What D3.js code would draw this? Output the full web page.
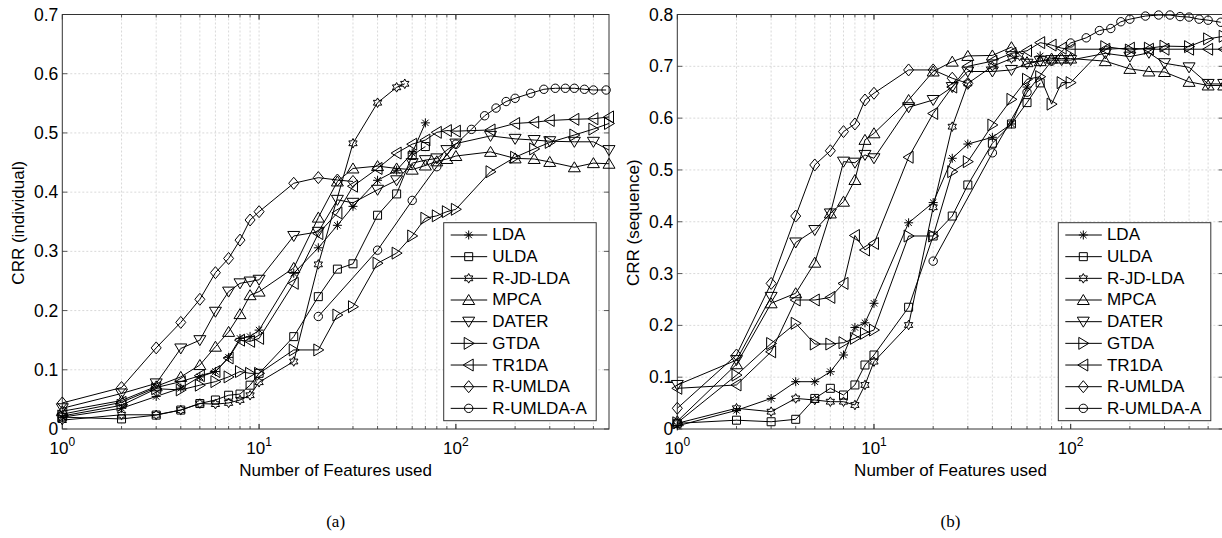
<!DOCTYPE html>
<html>
<head>
<meta charset="utf-8">
<script src="https://cdn.jsdelivr.net/npm/d3@7"></script>
<style>
body { margin: 0; background: #fff; }
text { font-family: "Liberation Sans", Arial, sans-serif; fill: #000; }
</style>
</head>
<body>
<svg id="chart" width="1222" height="538"></svg>
<script>
// feature counts
const xAll = [1,2,3,4,5,6,7,8,9,10,15,20,25,30,40,50,60,70,80,90,100,150,200,250,300,400,500,600];
const xTo70 = [1,2,3,4,5,6,7,8,9,10,15,20,25,30,40,50,60,70];
const xTo30 = [1,2,3,4,5,6,7,8,9,10,15,20,25,30];
const xRjdA = [1,2,3,4,5,6,7,8,9,10,15,20,30,40,50,55];
const xRjdB = [1,2,3,4,5,6,7,8,9,10,15,20,25,30,40,50,55];
const xAgg = [20,40,60,80,100,120,140,160,180,200,240,280,320,360,400,450,500,580];

const names = ['LDA','ULDA','R-JD-LDA','MPCA','DATER','GTDA','TR1DA','R-UMLDA','R-UMLDA-A'];
const markers = ['asterisk','square','hexagram','up','down','right','left','diamond','circle'];

// (a) CRR (individual)
const ldaA = [0.02,0.035,0.055,0.069,0.088,0.097,0.121,0.153,0.156,0.167,0.263,0.306,0.344,0.376,0.42,0.437,0.466,0.517];
const uldaA = [0.02,0.017,0.0235,0.032,0.043,0.049,0.057,0.059,0.074,0.094,0.156,0.2235,0.27,0.279,0.361,0.397,0.462,0.477];
const rjdA = [0.015,0.024,0.024,0.032,0.043,0.042,0.044,0.049,0.057,0.079,0.114,0.278,0.4825,0.551,0.577,0.583];
const mpcaA = [0.03,0.048,0.072,0.088,0.108,0.139,0.164,0.194,0.226,0.232,0.272,0.357,0.418,0.44,0.444,0.44,0.438,0.445,0.452,0.456,0.461,0.468,0.457,0.456,0.451,0.442,0.449,0.448];
const daterA = [0.035,0.06,0.077,0.136,0.15,0.198,0.232,0.246,0.249,0.252,0.326,0.333,0.387,0.382,0.404,0.42,0.449,0.454,0.457,0.471,0.482,0.495,0.49,0.488,0.486,0.485,0.485,0.471];
const gtdaA = [0.022,0.04,0.068,0.066,0.074,0.08,0.088,0.097,0.094,0.094,0.1335,0.1335,0.1925,0.2065,0.28,0.297,0.326,0.356,0.36,0.367,0.371,0.4345,0.459,0.473,0.484,0.4965,0.5065,0.516];
const tr1daA = [0.025,0.045,0.07,0.08,0.09,0.097,0.12,0.15,0.148,0.153,0.246,0.33,0.365,0.41,0.44,0.466,0.481,0.488,0.501,0.504,0.503,0.505,0.516,0.518,0.521,0.523,0.524,0.527];
const rumldaA = [0.044,0.07,0.137,0.18,0.219,0.264,0.288,0.319,0.353,0.367,0.415,0.4245,0.4205,0.418];
const rumldaAggA = [0.19,0.302,0.386,0.443,0.481,0.506,0.529,0.542,0.553,0.5585,0.567,0.5737,0.5754,0.5754,0.5754,0.5737,0.5725,0.5725];

// (b) CRR (sequence)
const ldaB = [0.006,0.036,0.059,0.0913,0.0913,0.1106,0.1428,0.196,0.205,0.2426,0.398,0.437,0.5225,0.55,0.563,0.5887,0.66,0.72];
const uldaB = [0.011,0.017,0.014,0.0187,0.059,0.0785,0.0656,0.085,0.1235,0.1428,0.235,0.3725,0.411,0.471,0.5515,0.5887,0.63,0.668];
const rjdB = [0.011,0.04,0.0334,0.059,0.056,0.0527,0.0527,0.0463,0.085,0.13,0.2007,0.428,0.5835,0.667,0.70,0.715,0.72];
const mpcaB = [0.015,0.125,0.2426,0.262,0.321,0.416,0.4387,0.4806,0.558,0.5707,0.635,0.69,0.709,0.72,0.721,0.737,0.708,0.71,0.715,0.715,0.715,0.71,0.695,0.69,0.689,0.67,0.663,0.663];
const daterB = [0.085,0.133,0.255,0.36,0.384,0.416,0.516,0.514,0.529,0.5225,0.621,0.635,0.66,0.69,0.69,0.693,0.705,0.71,0.712,0.712,0.712,0.725,0.7187,0.726,0.706,0.698,0.666,0.666];
const gtdaB = [0.012,0.104,0.165,0.204,0.164,0.164,0.1666,0.175,0.1847,0.191,0.3725,0.3725,0.4967,0.516,0.5868,0.6363,0.675,0.68,0.627,0.6685,0.6685,0.738,0.7315,0.735,0.739,0.738,0.753,0.758];
const tr1daB = [0.0785,0.085,0.149,0.249,0.249,0.254,0.281,0.3735,0.3455,0.358,0.5245,0.609,0.66,0.70,0.71,0.725,0.73,0.7457,0.741,0.735,0.733,0.733,0.735,0.733,0.733,0.733,0.733,0.733];
const rumldaB = [0.04,0.1428,0.281,0.411,0.5096,0.537,0.574,0.5887,0.635,0.648,0.693,0.693,0.677,0.667];
const rumldaAggB = [0.324,0.533,0.65,0.71,0.745,0.755,0.769,0.773,0.786,0.791,0.797,0.799,0.799,0.796,0.795,0.791,0.789,0.785];

const yTicksA = [0,0.1,0.2,0.3,0.4,0.5,0.6,0.7];
const yTicksB = [0,0.1,0.2,0.3,0.4,0.5,0.6,0.7,0.8];

const zip = (xs, ys) => ys.map((v, i) => [xs[i], v]);

const panels = [
    {
        left: 62.3, right: 609, top: 14.5, bottom: 429, ymax: 0.7, yTicks: yTicksA,
        ylabel: 'CRR (individual)', ylabelX: 18, tag: '(a)', legendX: 443.7,
        series: [zip(xTo70, ldaA), zip(xTo70, uldaA), zip(xRjdA, rjdA), zip(xAll, mpcaA), zip(xAll, daterA),
                 zip(xAll, gtdaA), zip(xAll, tr1daA), zip(xTo30, rumldaA), zip(xAgg, rumldaAggA)]
    },
    {
        left: 677.3, right: 1223.7, top: 14.5, bottom: 429, ymax: 0.8, yTicks: yTicksB,
        ylabel: 'CRR (sequence)', ylabelX: 633, tag: '(b)', legendX: 1058.3,
        series: [zip(xTo70, ldaB), zip(xTo70, uldaB), zip(xRjdB, rjdB), zip(xAll, mpcaB), zip(xAll, daterB),
                 zip(xAll, gtdaB), zip(xAll, tr1daB), zip(xTo30, rumldaB), zip(xAgg, rumldaAggB)]
    }
];

function markerPath (type) {
    if (type === 'asterisk') return 'M-4.5,0H4.5M0,-4.5V4.5M-3.2,-3.2L3.2,3.2M-3.2,3.2L3.2,-3.2';
    if (type === 'square') return 'M-4,-4H4V4H-4Z';
    if (type === 'up') return 'M0,-5.5L6,4.5H-6Z';
    if (type === 'down') return 'M0,5.5L6,-4.5H-6Z';
    if (type === 'right') return 'M5.5,0L-4.5,6V-6Z';
    if (type === 'left') return 'M-5.5,0L4.5,6V-6Z';
    if (type === 'diamond') return 'M0,-6L5,0L0,6L-5,0Z';
    if (type === 'circle') return 'M4.2,0A4.2,4.2 0 1,1 -4.2,0A4.2,4.2 0 1,1 4.2,0Z';
    if (type === 'hexagram') {
        const pts = d3.range(12).map(i => {
            const r = i % 2 === 0 ? 4.8 : 2.7;
            const a = -Math.PI / 2 + i * Math.PI / 6;
            return [r * Math.cos(a), r * Math.sin(a)];
        });
        return 'M' + pts.map(p => p[0].toFixed(2) + ',' + p[1].toFixed(2)).join('L') + 'Z';
    }
}

const svg = d3.select('#chart');

panels.forEach((p) => {
    const x = d3.scaleLog().domain([1, 600]).range([p.left, p.right]);
    const y = d3.scaleLinear().domain([0, p.ymax]).range([p.bottom, p.top]);
    const g = svg.append('g');

    // grid
    const minors = [];
    [1, 10, 100].forEach(d => d3.range(1, 10).forEach(k => { if (k * d > 1 && k * d < 600) minors.push(k * d); }));
    g.selectAll('.vgrid').data(minors).enter().append('line')
        .attr('x1', d => x(d)).attr('x2', d => x(d))
        .attr('y1', p.top).attr('y2', p.bottom)
        .attr('stroke', '#cfcfcf').attr('stroke-width', 0.8).attr('stroke-dasharray', '2,2');
    g.selectAll('.hgrid').data(p.yTicks.slice(1, -1)).enter().append('line')
        .attr('x1', p.left).attr('x2', p.right)
        .attr('y1', d => y(d)).attr('y2', d => y(d))
        .attr('stroke', '#cfcfcf').attr('stroke-width', 0.8).attr('stroke-dasharray', '2,2');

    // ticks on all four sides, pointing in
    const majors = [1, 10, 100];
    const tickStroke = '#333';
    [[p.bottom, -1], [p.top, 1]].forEach(([yy, dir]) => {
        g.selectAll(null).data(majors.concat(minors)).enter().append('line')
            .attr('x1', d => x(d)).attr('x2', d => x(d))
            .attr('y1', yy).attr('y2', d => yy + dir * (majors.includes(d) ? 5 : 3))
            .attr('stroke', tickStroke).attr('stroke-width', 0.8);
    });
    [[p.left, 1], [p.right, -1]].forEach(([xx, dir]) => {
        g.selectAll(null).data(p.yTicks).enter().append('line')
            .attr('y1', d => y(d)).attr('y2', d => y(d))
            .attr('x1', xx).attr('x2', xx + dir * 5)
            .attr('stroke', tickStroke).attr('stroke-width', 0.8);
    });

    // y tick labels
    g.append('g')
        .attr('transform', `translate(${p.left},0)`)
        .call(d3.axisLeft(y).tickValues(p.yTicks).tickSize(0).tickPadding(4)
            .tickFormat(d => d === 0 ? '0' : d3.format('.1f')(d)))
        .call(a => a.select('.domain').remove())
        .call(a => a.selectAll('text').attr('font-size', 17.5).attr('font-family', '"Liberation Sans", Arial, sans-serif'));

    // x tick labels 10^k
    majors.forEach((t, i) => {
        const tx = g.append('text').attr('x', x(t)).attr('y', 454).attr('text-anchor', 'middle').attr('font-size', 17);
        tx.append('tspan').text('10');
        tx.append('tspan').attr('dy', -8.5).attr('font-size', 12).text(String(i));
    });

    // box
    g.append('rect')
        .attr('x', p.left).attr('y', p.top)
        .attr('width', p.right - p.left).attr('height', p.bottom - p.top)
        .attr('fill', 'none').attr('stroke', '#333').attr('stroke-width', 1);

    // labels
    g.append('text').attr('x', (p.left + p.right) / 2).attr('y', 476)
        .attr('text-anchor', 'middle').attr('font-size', 17).text('Number of Features used');
    g.append('text').attr('transform', `translate(${p.ylabelX},${(p.top + p.bottom) / 2 + 1}) rotate(-90)`)
        .attr('text-anchor', 'middle').attr('dominant-baseline', 'central').attr('font-size', 17).text(p.ylabel);
    g.append('text').attr('x', (p.left + p.right) / 2).attr('y', 527)
        .attr('text-anchor', 'middle').attr('font-size', 17)
        .style('font-family', '"Liberation Serif", "Times New Roman", serif').text(p.tag);

    // series
    const line = d3.line().x(d => x(d[0])).y(d => y(d[1]));
    p.series.forEach((s, i) => {
        g.append('path').attr('d', line(s))
            .attr('fill', 'none').attr('stroke', '#000').attr('stroke-width', 1);
        g.selectAll(null).data(s).enter().append('path')
            .attr('transform', d => `translate(${x(d[0])},${y(d[1])})`)
            .attr('d', markerPath(markers[i]))
            .attr('fill', 'none').attr('stroke', '#000').attr('stroke-width', 1);
    });

    // legend
    const lg = g.append('g').attr('transform', `translate(${p.legendX},222.7)`);
    lg.append('rect').attr('width', 152.5).attr('height', 198)
        .attr('fill', '#fff').attr('stroke', '#333').attr('stroke-width', 1);
    names.forEach((n, i) => {
        const yy = 12.3 + i * 21.67;
        lg.append('line').attr('x1', 7).attr('x2', 43.5).attr('y1', yy).attr('y2', yy)
            .attr('stroke', '#000').attr('stroke-width', 1);
        lg.append('path').attr('transform', `translate(25,${yy})`).attr('d', markerPath(markers[i]))
            .attr('fill', 'none').attr('stroke', '#000').attr('stroke-width', 1);
        lg.append('text').attr('x', 48.6).attr('y', yy).attr('dominant-baseline', 'central')
            .attr('font-size', 17).text(n);
    });
});
</script>
</body>
</html>
